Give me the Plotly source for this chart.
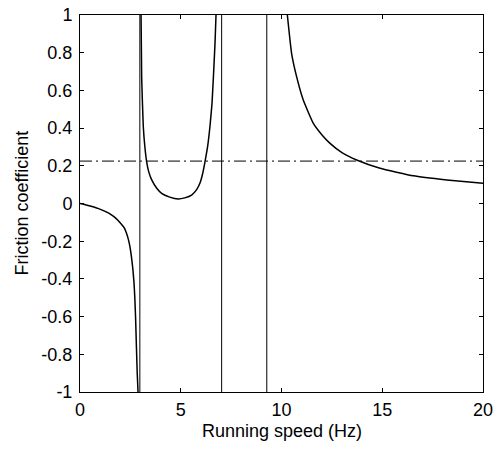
import plotly.graph_objects as go

# Curve segments
seg1_x = [0.0, 0.45, 0.89, 1.25, 1.56, 1.8, 1.97, 2.2, 2.3, 2.4, 2.48, 2.55, 2.62, 2.68, 2.72, 2.76, 2.8, 2.84, 2.88]
seg1_y = [0.0, -0.012, -0.026, -0.042, -0.06, -0.08, -0.1, -0.13, -0.155, -0.19, -0.23, -0.28, -0.345, -0.42, -0.5, -0.61, -0.76, -0.9, -1.0]

seg2_x = [3.03, 3.06, 3.14, 3.22, 3.31, 3.42, 3.56, 3.8, 4.05, 4.45, 4.88, 5.2, 5.54, 5.78, 5.95, 6.08, 6.20, 6.33, 6.45, 6.55, 6.62, 6.70, 6.75]
seg2_y = [1.0, 0.67, 0.41, 0.30, 0.22, 0.165, 0.125, 0.082, 0.054, 0.034, 0.024, 0.03, 0.045, 0.072, 0.107, 0.155, 0.22, 0.30, 0.41, 0.53, 0.67, 0.85, 1.0]

seg3_x = [10.29, 10.5, 10.75, 11.08, 11.58, 12.0, 12.41, 13.0, 13.73, 14.89, 16.54, 18.2, 20.0]
seg3_y = [1.0, 0.797, 0.673, 0.549, 0.425, 0.365, 0.319, 0.27, 0.231, 0.187, 0.147, 0.125, 0.107]

vlines_x = [2.97, 7.03, 9.27]
hline_y = 0.225

x_ticks = [0, 5, 10, 15, 20]
y_ticks = [-1, -0.8, -0.6, -0.4, -0.2, 0, 0.2, 0.4, 0.6, 0.8, 1]
y_labels = ["-1", "-0.8", "-0.6", "-0.4", "-0.2", "0", "0.2", "0.4", "0.6", "0.8", "1"]

FONT = "Liberation Sans, Arial, sans-serif"

fig = go.Figure()

for sx, sy in [(seg1_x, seg1_y), (seg2_x, seg2_y), (seg3_x, seg3_y)]:
    fig.add_trace(go.Scatter(x=sx, y=sy, mode="lines",
                             line=dict(color="black", width=1.5, shape="spline", smoothing=0.4),
                             showlegend=False, hoverinfo="skip"))

for vx in vlines_x:
    fig.add_trace(go.Scatter(x=[vx, vx], y=[-1, 1], mode="lines",
                             line=dict(color="black", width=1), showlegend=False, hoverinfo="skip"))

fig.add_trace(go.Scatter(x=[0, 20], y=[hline_y, hline_y], mode="lines",
                         line=dict(color="black", width=1, dash="12px,4px,2px,4px"),
                         showlegend=False, hoverinfo="skip"))

axis_common = dict(showline=True, linecolor="black", linewidth=1, mirror="ticks",
                   ticks="inside", ticklen=4, tickcolor="black", showgrid=False,
                   zeroline=False, automargin=False,
                   tickfont=dict(family=FONT, size=18, color="black"))

fig.update_layout(
    width=494, height=450,
    margin=dict(l=80, r=11, t=15, b=58),
    plot_bgcolor="white", paper_bgcolor="white",
    xaxis=dict(range=[0, 20], tickvals=x_ticks, ticktext=[str(v) for v in x_ticks],
               ticklabelstandoff=1, **axis_common),
    yaxis=dict(range=[-1, 1], tickvals=y_ticks, ticktext=y_labels,
               ticklabelstandoff=3, **axis_common),
    annotations=[
        dict(text="Running speed (Hz)", xref="paper", yref="paper", x=0.5, y=(392 - 431) / 377,
             xanchor="center", yanchor="middle", showarrow=False,
             font=dict(family=FONT, size=18, color="black")),
        dict(text="Friction coefficient", xref="paper", yref="paper", x=(21 - 80) / 403, y=0.5,
             xanchor="center", yanchor="middle", textangle=-90, showarrow=False,
             font=dict(family=FONT, size=18, color="black")),
    ],
)

# remove the page's default body margin so the figure fills the window exactly
fig.write_html("out.html", config={"displayModeBar": False},
               post_script="document.body.style.margin='0';")
